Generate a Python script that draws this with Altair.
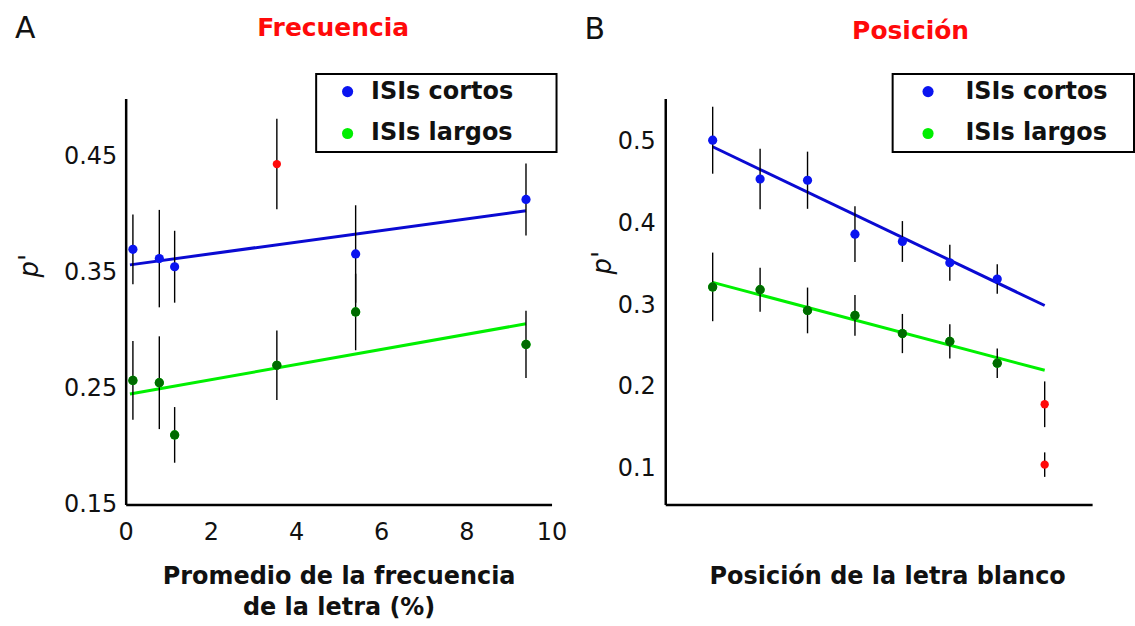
import altair as alt
import pandas as pd

# ---------------- Panel A: Frecuencia ----------------
freq_cortos = [0.17, 0.79, 1.15, 5.40, 9.40]
p_cortos_A = [0.370, 0.362, 0.355, 0.366, 0.413]
err_cortos_A = [0.030, 0.042, 0.031, 0.042, 0.031]

freq_largos = [0.17, 0.79, 1.15, 3.55, 5.40, 9.40]
p_largos_A = [0.257, 0.255, 0.210, 0.270, 0.316, 0.288]
err_largos_A = [0.034, 0.040, 0.024, 0.030, 0.033, 0.029]

freq_excluida = [3.55]
p_excluida_A = [0.4435]
err_excluida_A = [0.039]

fit_x_A = [0.1, 9.4]
fit_cortos_A = [0.3566, 0.4033]
fit_largos_A = [0.2452, 0.3058]

# ---------------- Panel B: Posición ----------------
posicion = [1, 2, 3, 4, 5, 6, 7]
p_cortos_B = [0.502, 0.4545, 0.453, 0.387, 0.378, 0.352, 0.332]
err_cortos_B = [0.041, 0.037, 0.035, 0.034, 0.025, 0.022, 0.018]
p_largos_B = [0.3224, 0.319, 0.2936, 0.2875, 0.2653, 0.2556, 0.229]
err_largos_B = [0.042, 0.027, 0.028, 0.025, 0.024, 0.021, 0.018]

pos_excluida = [8, 8]
p_excluida_B = [0.1787, 0.1048]
err_excluida_B = [0.028, 0.015]

fit_x_B = [1, 8]
fit_cortos_B = [0.494, 0.2996]
fit_largos_B = [0.328, 0.2203]

series = ["ISIs cortos", "ISIs largos"]

BLUE_PT = "#0a14f0"
BLUE_LN = "#0a0ad2"
GREEN_LN = "#00f000"
GREEN_LEG = "#00ee00"
GREEN_PT = "#006a00"
RED = "#ff0a0a"
FONT = "DejaVu Sans"
INK = "#111111"


def pts(xs, ys, es, serie):
    return pd.DataFrame({"x": xs, "y": ys, "err": es, "serie": [serie] * len(xs)})


def panel(xs_c, ys_c, es_c, xs_l, ys_l, es_l, xs_o, ys_o, es_o,
          fx, fc, fl, x_enc, y_enc, letter, title, lay, width, height):
    df = pd.concat([pts(xs_c, ys_c, es_c, series[0]), pts(xs_l, ys_l, es_l, series[1])],
                   ignore_index=True)
    df_out = pts(xs_o, ys_o, es_o, "excluida")
    df_fc = pd.DataFrame({"x": fx, "y": fc})
    df_fl = pd.DataFrame({"x": fx, "y": fl})

    box = alt.Chart(pd.DataFrame({"k": [0]})).mark_rect(
        fill="white", stroke="black", strokeWidth=2
    ).encode(x=alt.value(lay["bx1"]), x2=alt.value(lay["bx2"]),
             y=alt.value(-24.7), y2=alt.value(53.7))

    line_c = alt.Chart(df_fc).mark_line(color=BLUE_LN, strokeWidth=3).encode(x=x_enc, y=y_enc)
    line_l = alt.Chart(df_fl).mark_line(color=GREEN_LN, strokeWidth=3).encode(x=x_enc, y=y_enc)

    ebars = alt.Chart(pd.concat([df, df_out], ignore_index=True)).transform_calculate(
        lo="datum.y - datum.err", hi="datum.y + datum.err"
    ).mark_rule(color="black", strokeWidth=1.4).encode(
        x=alt.X("x:Q"), y=alt.Y("lo:Q"), y2="hi:Q")

    points = alt.Chart(df).mark_circle(size=85, opacity=1).encode(
        x=alt.X("x:Q"), y=alt.Y("y:Q"),
        color=alt.Color("serie:N",
                        scale=alt.Scale(domain=series, range=[BLUE_PT, GREEN_LEG]),
                        legend=alt.Legend(title=None, orient="none",
                                          legendX=lay["lx"], legendY=-19,
                                          symbolType="circle", symbolSize=125,
                                          symbolStrokeWidth=0,
                                          labelFont=FONT, labelFontSize=24,
                                          labelFontWeight="bold", labelColor=INK,
                                          labelOffset=lay["loff"], rowPadding=18,
                                          padding=0)))
    dark = alt.Chart(df).transform_filter(
        alt.datum.serie == series[1]
    ).mark_circle(size=85, opacity=1, color=GREEN_PT).encode(x=alt.X("x:Q"), y=alt.Y("y:Q"))
    red = alt.Chart(df_out).mark_circle(size=70, opacity=1, color=RED).encode(
        x=alt.X("x:Q"), y=alt.Y("y:Q"))

    t_letter = alt.Chart(pd.DataFrame({"t": [letter]})).mark_text(
        font=FONT, fontSize=30, color=INK, align="left", baseline="alphabetic"
    ).encode(text="t:N", x=alt.value(lay["ax"]), y=alt.value(lay["ay"]))
    t_title = alt.Chart(pd.DataFrame({"t": [title]})).mark_text(
        font=FONT, fontSize=25, fontWeight="bold", color=RED, align="center",
        baseline="alphabetic"
    ).encode(text="t:N", x=alt.value(lay["tx"]), y=alt.value(lay["ty"]))

    return alt.layer(box, line_c, line_l, ebars, points, dark, red, t_letter, t_title).properties(
        width=width, height=height)


xA = alt.X("x:Q", scale=alt.Scale(domain=[0, 10], nice=False, zero=False),
           axis=alt.Axis(values=[0, 2, 4, 6, 8, 10], format="d", labelPadding=16,
                         labelFlush=False,
                         title=["Promedio de la frecuencia", "de la letra (%)"],
                         titleY=60, titleBaseline="top", titleLineHeight=31))
yA = alt.Y("y:Q", scale=alt.Scale(domain=[0.15, 0.5], nice=False, zero=False),
           axis=alt.Axis(values=[0.15, 0.25, 0.35, 0.45], format=".2f", labelPadding=9,
                         labelFlush=False,
                         title="p'", titleFontStyle="italic", titleFontWeight="normal",
                         titleFontSize=26, titleAngle=270, titleX=-83, titleY=167,
                         titleBaseline="bottom", titleAlign="center"))
xB = alt.X("x:Q", scale=alt.Scale(domain=[0, 9], nice=False, zero=False),
           axis=alt.Axis(labels=False, title="Posición de la letra blanco",
                         titleY=60, titleX=222.5, titleBaseline="top"))
yB = alt.Y("y:Q", scale=alt.Scale(domain=[0.056, 0.553], nice=False, zero=False),
           axis=alt.Axis(values=[0.1, 0.2, 0.3, 0.4, 0.5], format=".1f", labelPadding=10,
                         labelFlush=False,
                         title="p'", titleFontStyle="italic", titleFontWeight="normal",
                         titleFontSize=26, titleAngle=270, titleX=-50, titleY=164,
                         titleBaseline="bottom", titleAlign="center"))

layA = {"bx1": 191, "bx2": 432, "lx": 210.5, "loff": 11.5,
        "ax": -111, "ay": -61, "tx": 208, "ty": -63}
layB = {"bx1": 228, "bx2": 470, "lx": 251.5, "loff": 25.5,
        "ax": -81, "ay": -60, "tx": 246, "ty": -60}

chartA = panel(freq_cortos, p_cortos_A, err_cortos_A, freq_largos, p_largos_A, err_largos_A,
               freq_excluida, p_excluida_A, err_excluida_A, fit_x_A, fit_cortos_A, fit_largos_A,
               xA, yA, "A", "Frecuencia", layA, 427, 407)
chartB = panel(posicion, p_cortos_B, err_cortos_B, posicion, p_largos_B, err_largos_B,
               pos_excluida, p_excluida_B, err_excluida_B, fit_x_B, fit_cortos_B, fit_largos_B,
               xB, yB, "B", "Posición", layB, 428, 407)

chart = alt.hconcat(chartA, chartB, spacing=114, bounds="flush").resolve_scale(
    color="independent"
).resolve_legend(color="independent").properties(
    padding={"left": 15, "top": 13, "right": 0, "bottom": 0},
    background="white"
).configure_view(stroke="transparent", strokeWidth=0).configure_axis(
    domainColor="black", domainWidth=2.5, ticks=False, tickSize=0, grid=False,
    labelFont=FONT, labelFontSize=24, labelColor=INK,
    titleFont=FONT, titleFontSize=24, titleFontWeight="bold", titleColor=INK
)

chart.save("out.html", embed_options={"renderer": "svg", "actions": False})
